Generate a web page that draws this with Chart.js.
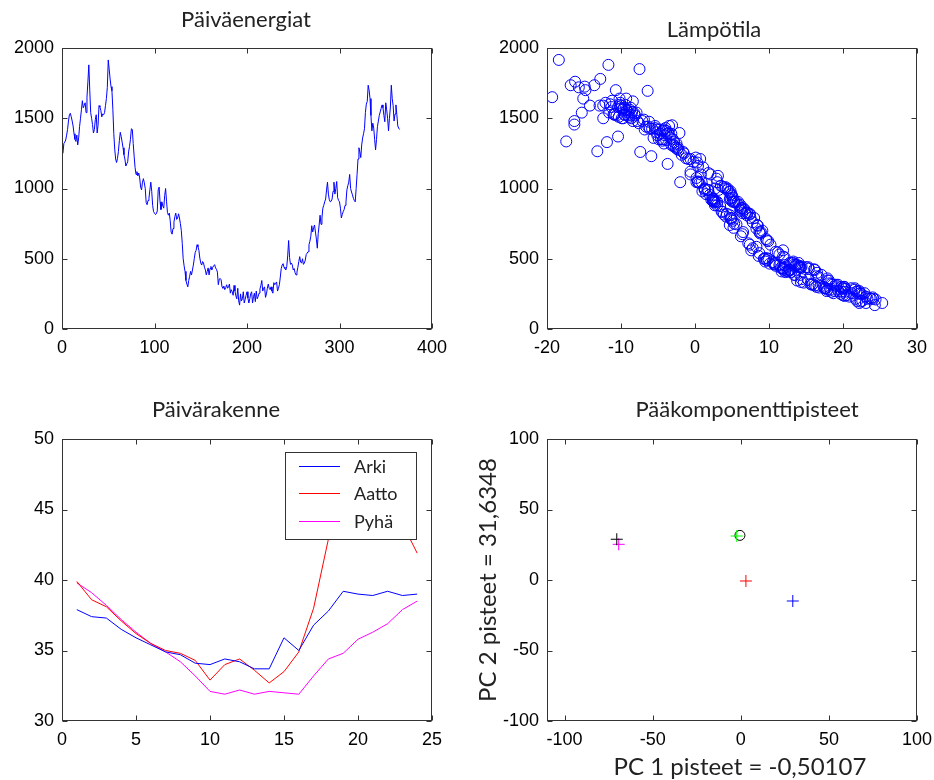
<!DOCTYPE html>
<html>
<head>
<meta charset="utf-8">
<script src="https://cdn.jsdelivr.net/npm/chart.js@4.4.0/dist/chart.umd.min.js"></script>
<style>
  html, body { margin: 0; padding: 0; background: #fff; }
  #wrap { position: relative; width: 934px; height: 780px; overflow: hidden; }
  #wrap canvas { position: absolute; left: 0; top: 0; }
</style>
</head>
<body>
<div id="wrap">
  <canvas id="energyChart" width="934" height="780"></canvas>
  <canvas id="tempChart" width="934" height="780"></canvas>
  <canvas id="hourChart" width="934" height="780"></canvas>
  <canvas id="pcChart" width="934" height="780"></canvas>
</div>
<script>
// Daily energy consumption over one year (days 1..365)
const energy = [
  1250,1320,1330,1345,1380,1420,1480,1525,1535,1510,
  1480,1445,1390,1350,1335,1380,1310,1360,1440,1500,
  1560,1625,1575,1590,1610,1540,1650,1760,1880,1700,
  1540,1500,1455,1395,1420,1490,1525,1395,1450,1590,
  1580,1555,1510,1530,1525,1540,1590,1640,1720,1915,
  1850,1780,1725,1695,1560,1390,1280,1210,1185,1215,
  1265,1340,1400,1370,1330,1290,1240,1210,1160,1175,
  1190,1260,1300,1350,1425,1420,1320,1230,1150,1100,
  1120,1090,1110,1075,1010,990,1045,1070,1040,1000,
  900,885,915,930,990,1045,980,880,835,825,
  815,820,840,990,1010,905,850,905,875,860,
  950,1000,910,830,810,825,770,690,675,715,
  760,800,825,780,790,820,790,750,700,610,
  500,450,410,345,320,300,345,375,410,385,
  420,455,500,545,560,600,585,560,505,470,
  455,480,470,440,420,385,410,435,385,430,
  445,420,440,450,458,435,425,405,315,355,
  360,350,300,290,305,280,295,315,290,300,
  320,255,280,265,240,310,270,235,215,290,
  200,170,250,200,215,265,185,210,240,265,
  220,185,215,250,265,185,230,255,195,270,
  215,230,255,285,310,345,270,290,300,225,
  250,290,320,290,280,300,270,255,330,315,
  325,335,270,290,315,370,430,455,465,440,
  430,420,445,520,630,510,460,470,455,420,
  430,400,385,405,440,480,515,475,470,500,
  460,470,490,530,540,550,600,625,660,735,
  690,720,740,690,640,575,680,740,810,745,
  790,860,880,905,925,990,1045,960,920,905,
  910,925,980,1045,960,1000,1050,935,915,905,
  860,790,815,835,850,880,905,990,1020,1045,
  1100,1000,975,955,930,915,905,1000,1100,1210,
  1290,1260,1220,1310,1360,1390,1425,1540,1600,1620,
  1735,1700,1640,1520,1410,1465,1430,1350,1275,1350,
  1440,1480,1520,1545,1570,1595,1575,1520,1475,1610,
  1560,1500,1410,1500,1580,1735,1640,1590,1480,1530,
  1595,1525,1445,1430,1420
];

// Daily mean temperature for the same days
const temperature = [
  -1.5,-4.2,-2.8,-3.9,-5.1,-6.8,-8.4,-9.5,-8.2,-10.3,
  -7.1,-5.4,-3.8,-4.9,-17.4,-4.1,-3.2,-5.6,-6.3,-9.7,
  -8.8,-11.2,-9.6,-12.4,-10.1,-7.9,-19.3,-16.2,-11.7,-14.8,
  -15.3,-8.6,-16.3,-2.1,-4.8,-6.9,-10.9,-3.6,-3.1,-9.9,
  -10.4,-9.2,-8.9,-10.8,-9.5,-11.6,-12.9,-10.2,-15.7,-18.4,
  -7.5,-12.8,-14.9,-6.4,-9.8,-3.2,-2.4,-0.6,0.3,-1.2,
  -13.2,-4.4,-5.2,-10.4,-11.9,-2.6,-1.8,-0.9,0.4,-3.7,
  -0.2,-7.4,-2.9,-4.6,-5.8,-4.2,-2.5,-5.9,1.1,0.8,
  -0.6,3.1,1.8,0.2,4.1,1.7,-2.0,2.9,0.6,4.4,
  2.6,6.1,4.9,2.4,3.2,0.4,4.8,5.9,3.6,7.1,
  3.9,7.4,6.2,1.3,3.8,2.6,6.7,5.1,3.4,6.5,
  5.0,1.3,2.8,7.0,4.7,6.8,5.1,8.7,6.4,8.3,
  7.8,4.2,6.4,4.9,7.5,4.3,8.0,5.3,9.1,7.2,
  9.9,14.1,12.6,17.9,15.6,19.8,13.8,16.4,11.7,13.5,
  12.0,13.8,9.3,11.2,7.6,10.2,8.3,11.9,9.6,14.0,
  11.4,13.3,10.8,15.0,12.9,17.1,12.5,14.3,13.4,11.8,
  14.4,12.7,15.3,10.9,13.4,11.6,16.1,12.2,19.3,14.4,
  17.9,15.3,20.2,17.7,19.1,21.6,16.8,18.6,21.1,17.4,
  15.9,22.3,17.9,19.8,20.5,16.7,22.0,20.2,24.1,20.1,
  21.9,24.3,19.7,22.6,23.8,18.4,22.2,24.4,20.0,21.8,
  23.6,23.1,21.7,22.1,20.3,25.3,20.9,21.2,22.4,19.4,
  23.3,23.1,18.7,20.3,16.2,18.1,17.8,19.9,16.4,24.0,
  22.5,17.5,18.4,21.6,18.3,20.1,18.9,22.9,14.7,19.0,
  18.2,14.3,22.2,17.6,15.8,16.7,11.9,13.6,10.1,14.2,
  15.4,12.8,13.5,8.6,9.7,12.1,10.7,12.8,12.1,16.2,
  12.0,16.5,14.2,13.0,14.1,9.5,11.9,10.5,13.3,9.4,
  10.8,13.0,9.7,11.4,8.7,10.9,7.4,9.9,6.2,8.5,
  8.9,5.2,8.4,6.5,9.6,7.8,8.8,4.7,7.0,5.6,
  4.9,6.2,3.0,5.3,2.5,4.4,0.2,4.9,2.2,5.8,
  2.4,4.7,1.0,3.0,1.5,4.1,0.4,5.1,2.6,3.0,
  6.3,4.8,7.4,3.7,6.1,2.7,5.3,1.8,3.5,0.9,
  2.1,1.3,4.6,2.0,4.8,2.4,5.5,2.7,-0.6,0.7,
  -2.3,-1.6,0.1,-2.9,-3.3,-4.7,-6.1,-9.0,-11.5,-8.4,
  -13.6,-10.7,-9.3,-8.1,-3.9,-7.6,-5.4,-3.0,-2.2,-4.3,
  -6.6,-7.8,-9.1,-8.5,-10.0,-9.4,-8.7,-10.6,-6.2,-12.1,
  -9.3,-12.4,-4.4,-9.9,-11.3,-16.8,-15.1,-14.2,-16.3,-11.0,
  -10.2,-8.6,-3.5,-4.0,-5.1
];

// Hourly profiles (hours 1..24)
const hours = [1,2,3,4,5,6,7,8,9,10,11,12,13,14,15,16,17,18,19,20,21,22,23,24];
const arki  = [37.9,37.4,37.3,36.5,35.9,35.4,34.9,34.7,34.1,34.0,34.4,34.2,33.7,33.7,35.9,35.0,36.8,37.8,39.2,39.0,38.9,39.2,38.9,39.0];
const aatto = [39.9,38.6,38.1,37.1,36.2,35.5,35.0,34.8,34.3,32.9,34.0,34.4,33.6,32.7,33.5,34.9,38.0,42.9,47.5,48.0,47.5,46.5,44.0,41.9];
const pyha  = [39.8,39.1,38.2,37.2,36.3,35.5,34.9,34.2,33.2,32.1,31.9,32.2,31.9,32.1,32.0,31.9,33.2,34.4,34.8,35.8,36.3,36.9,37.9,38.5];
const profileNames = ['Arki', 'Aatto', 'Pyhä'];

// Principal component scores
const pcScoreX = [-70.4, -69.3, -2.3, 2.9, 29.5];
const pcScoreY = [28.9, 25.3, 31.2, -0.7, -14.9];
const pcColors = ['#000000', '#ff00ff', '#00ff00', '#ff0000', '#0000ff'];
const pcPoint = { x: -0.50107, y: 31.6348 };

// Tick values of each axis
const dayTicks = [0, 100, 200, 300, 400];
const energyTicks = [0, 500, 1000, 1500, 2000];
const tempTicks = [-20, -10, 0, 10, 20, 30];
const hourTicks = [0, 5, 10, 15, 20, 25];
const profileTicks = [30, 35, 40, 45, 50];
const pcTicks = [-100, -50, 0, 50, 100];

const days = energy.map((_, i) => i + 1);

const TICK_FONT = { family: '"Liberation Sans", Arial, sans-serif', size: 18 };
const TITLE_FONT = '22px Lato, "Noto Sans", sans-serif';
const LABEL_FONT = '24px Lato, "Noto Sans", sans-serif';
const LEGEND_FONT = '18px Lato, "Noto Sans", sans-serif';
const AXIS_COLOR = '#333333';
const Y_AXIS_W = 80, X_AXIS_H = 50;

// Boxed axes with inward ticks on all four sides, plus free-placed texts
const boxAxes = {
  id: 'boxAxes',
  afterDraw(chart, args, opts) {
    const { ctx, chartArea: a, scales } = chart;
    const xs = scales.x, ys = scales.y;
    const L = Math.round(a.left) + 0.5, R = Math.round(a.right) - 0.5;
    const T = Math.round(a.top) + 0.5, B = Math.round(a.bottom) - 0.5;
    ctx.save();
    ctx.strokeStyle = AXIS_COLOR;
    ctx.lineWidth = 1;
    ctx.beginPath();
    xs.ticks.forEach(t => {
      const p = Math.round(xs.getPixelForValue(t.value)) + 0.5;
      ctx.moveTo(p, B); ctx.lineTo(p, B - 5);
      ctx.moveTo(p, T); ctx.lineTo(p, T + 5);
    });
    ys.ticks.forEach(t => {
      const p = Math.round(ys.getPixelForValue(t.value)) + 0.5;
      ctx.moveTo(L, p); ctx.lineTo(L + 5, p);
      ctx.moveTo(R, p); ctx.lineTo(R - 5, p);
    });
    ctx.stroke();
    ctx.strokeRect(L, T, R - L, B - T);

    if (opts.legend) {
      const lg = opts.legend;
      ctx.fillStyle = '#ffffff';
      ctx.fillRect(lg.x, lg.y, lg.w, lg.h);
      ctx.strokeStyle = AXIS_COLOR;
      ctx.strokeRect(lg.x + 0.5, lg.y + 0.5, lg.w, lg.h);
      ctx.font = LEGEND_FONT;
      ctx.textAlign = 'left';
      ctx.textBaseline = 'middle';
      lg.items.forEach((it, i) => {
        const yy = Math.round(lg.y + lg.first + i * lg.step) + 0.5;
        ctx.strokeStyle = it.color;
        ctx.beginPath();
        ctx.moveTo(lg.x + 14, yy); ctx.lineTo(lg.x + 55, yy);
        ctx.stroke();
        ctx.fillStyle = '#222222';
        ctx.fillText(it.text, lg.x + 69, yy + 1);
      });
    }

    (opts.texts || []).forEach(tx => {
      ctx.save();
      ctx.font = tx.font || TITLE_FONT;
      ctx.fillStyle = '#222222';
      ctx.textAlign = 'center';
      ctx.textBaseline = 'alphabetic';
      ctx.translate(tx.x, tx.y);
      if (tx.rotate) ctx.rotate(tx.rotate);
      ctx.fillText(tx.text, 0, 0);
      ctx.restore();
    });
    ctx.restore();
  }
};

function axis(min, max, tickValues, isX) {
  return {
    type: 'linear',
    min: min, max: max,
    ticks: {
      font: TICK_FONT, color: '#000000',
      padding: isX ? 8 : 8, maxRotation: 0, autoSkip: false,
      callback: v => String(v)
    },
    grid: { display: false, drawTicks: false },
    border: { display: false },
    afterBuildTicks(s) {
      s.ticks = tickValues.map(v => ({ value: v }));
    },
    afterFit(s) {
      if (isX) { s.height = X_AXIS_H; } else { s.width = Y_AXIS_W; }
      s.paddingLeft = 0; s.paddingRight = 0; s.paddingTop = 0; s.paddingBottom = 0;
    }
  };
}

// area = [left, top, right, bottom] of the plot box in page pixels
function frameOptions(area, xAx, yAx, extra) {
  return {
    responsive: false,
    devicePixelRatio: 1,
    animation: false,
    events: [],
    layout: { padding: { left: area[0] - Y_AXIS_W, top: area[1], right: 934 - area[2], bottom: 780 - area[3] - X_AXIS_H } },
    scales: { x: xAx, y: yAx },
    plugins: { legend: { display: false }, tooltip: { enabled: false }, boxAxes: extra }
  };
}

// Päiväenergiat: energy per day
new Chart(document.getElementById('energyChart'), {
  type: 'line',
  data: {
    datasets: [{
      data: energy.map((v, i) => ({ x: days[i], y: v })),
      borderColor: '#0000ff', borderWidth: 1, pointRadius: 0, tension: 0, fill: false
    }]
  },
  options: frameOptions([62, 48, 432, 329], axis(0, 400, dayTicks, true), axis(0, 2000, energyTicks, false),
    { texts: [{ text: 'Päiväenergiat', x: 246, y: 27 }] }),
  plugins: [boxAxes]
});

// Lämpötila: energy against temperature
new Chart(document.getElementById('tempChart'), {
  type: 'scatter',
  data: {
    datasets: [{
      data: energy.map((v, i) => ({ x: temperature[i], y: v })),
      pointStyle: 'circle', pointRadius: 5.5, borderWidth: 1,
      borderColor: '#0000ff', backgroundColor: 'rgba(0,0,0,0)'
    }]
  },
  options: frameOptions([547, 48, 917, 329], axis(-20, 30, tempTicks, true), axis(0, 2000, energyTicks, false),
    { texts: [{ text: 'Lämpötila', x: 714, y: 37 }] }),
  plugins: [boxAxes]
});

// Päivärakenne: hourly profiles
const profileColors = ['#0000ff', '#ff0000', '#ff00ff'];
new Chart(document.getElementById('hourChart'), {
  type: 'line',
  data: {
    datasets: [arki, aatto, pyha].map((arr, k) => ({
      label: profileNames[k],
      data: arr.map((v, i) => ({ x: hours[i], y: v })),
      borderColor: profileColors[k], borderWidth: 1, pointRadius: 0, tension: 0, fill: false
    }))
  },
  options: frameOptions([62, 439, 432, 721], axis(0, 25, hourTicks, true), axis(30, 50, profileTicks, false), {
    texts: [{ text: 'Päivärakenne', x: 216, y: 417 }],
    legend: {
      x: 285, y: 452, w: 131, h: 87, first: 13.5, step: 27.7,
      items: profileNames.map((n, k) => ({ text: n, color: profileColors[k] }))
    }
  }),
  plugins: [boxAxes]
});

// Pääkomponenttipisteet: PC scores
const fmt = v => String(v).replace('.', ',');
new Chart(document.getElementById('pcChart'), {
  type: 'scatter',
  data: {
    datasets: pcScoreX.map((x, i) => ({
      data: [{ x: x, y: pcScoreY[i] }],
      pointStyle: 'cross', pointRadius: 6, borderWidth: 1,
      borderColor: pcColors[i], backgroundColor: pcColors[i]
    })).concat([{
      data: [{ x: pcPoint.x, y: pcPoint.y }],
      pointStyle: 'circle', pointRadius: 5, borderWidth: 1,
      borderColor: '#000000', backgroundColor: 'rgba(0,0,0,0)'
    }])
  },
  options: frameOptions([547, 439, 917, 721],
    axis(-110, 100, pcTicks, true), axis(-100, 100, pcTicks, false), {
    texts: [
      { text: 'Pääkomponenttipisteet', x: 747, y: 417 },
      { text: 'PC 1 pisteet = ' + fmt(pcPoint.x), x: 740, y: 775, font: LABEL_FONT },
      { text: 'PC 2 pisteet = ' + fmt(pcPoint.y), x: 496, y: 580, rotate: -Math.PI / 2, font: LABEL_FONT }
    ]
  }),
  plugins: [boxAxes]
});
</script>
</body>
</html>
